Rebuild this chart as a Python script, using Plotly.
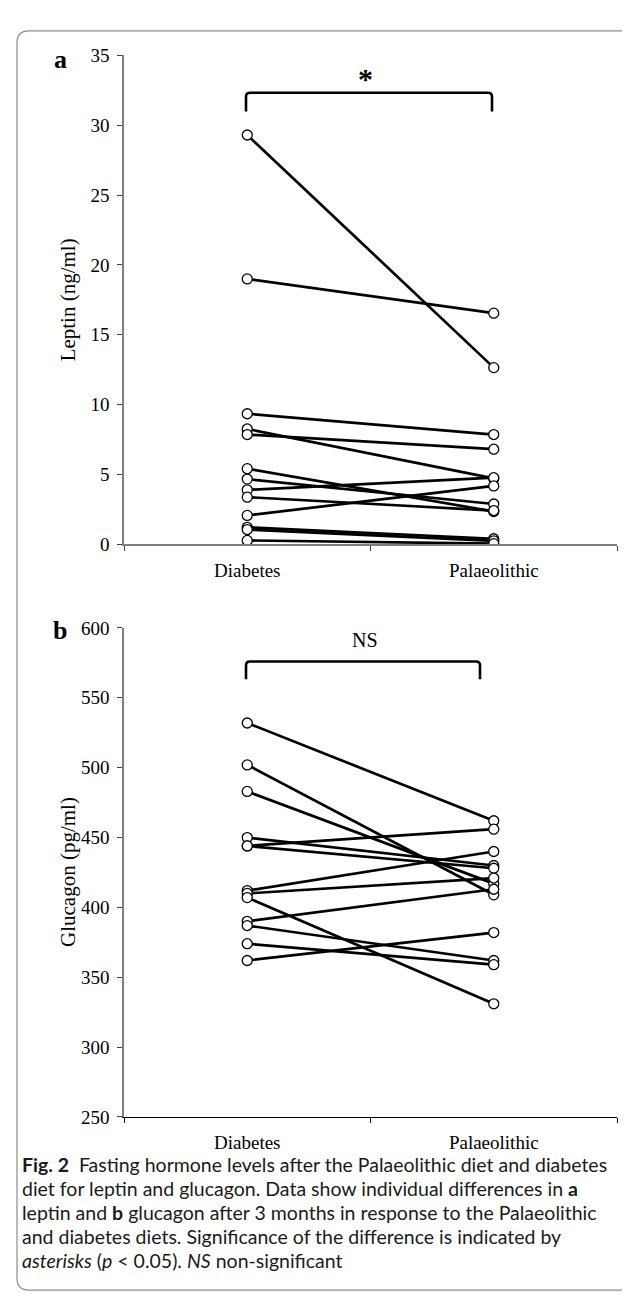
import plotly.graph_objects as go

W, H = 630, 1299

categories = ["Diabetes", "Palaeolithic"]

leptin_diabetes = [29.3, 19.0, 9.35, 8.26, 7.86, 5.42, 4.67, 3.90, 3.38, 2.07, 1.22, 1.06, 0.28]
leptin_palaeo = [12.65, 16.55, 7.86, 4.72, 6.81, 2.35, 2.89, 4.77, 2.42, 4.18, 0.40, 0.25, 0.05]

glucagon_diabetes = [532, 502, 483, 450, 444, 444, 412, 410, 407, 390, 387, 374, 362]
glucagon_palaeo = [462, 409, 417, 430, 456, 428, 440, 421, 331, 413, 362, 359, 382]

leptin_ticks = [0, 5, 10, 15, 20, 25, 30, 35]
glucagon_ticks = [250, 300, 350, 400, 450, 500, 550, 600]

caption_lines = [
    "<b>Fig. 2</b>  Fasting hormone levels after the Palaeolithic diet and diabetes",
    "diet for leptin and glucagon. Data show individual differences in <b>a</b>",
    "leptin and <b>b</b> glucagon after 3 months in response to the Palaeolithic",
    "and diabetes diets. Significance of the difference is indicated by",
    "<i>asterisks</i> (<i>p</i> &lt; 0.05). <i>NS</i> non-significant",
]

SERIF = "Liberation Serif"
SANS = "Lato"


def px(x):
    return x / W


def py(y):
    return 1 - y / H


fig = go.Figure()

panels = [
    ("x", "y", leptin_diabetes, leptin_palaeo),
    ("x2", "y2", glucagon_diabetes, glucagon_palaeo),
]

for xa, ya, dvals, pvals in panels:
    for d, p in zip(dvals, pvals):
        fig.add_trace(go.Scatter(
            x=categories, y=[d, p], xaxis=xa, yaxis=ya, mode="lines",
            line=dict(color="black", width=2.7), showlegend=False, hoverinfo="skip"))
    xs = [categories[0]] * len(dvals) + [categories[1]] * len(pvals)
    ys = list(dvals) + list(pvals)
    fig.add_trace(go.Scatter(
        x=xs, y=ys, xaxis=xa, yaxis=ya, mode="markers",
        marker=dict(symbol="circle", size=10, color="white",
                    line=dict(color="black", width=1.3)),
        showlegend=False))

xdom = [px(116), px(609)]
common_x = dict(
    type="category", range=[-0.5, 1.5], domain=xdom, showline=True,
    ticks="outside", tickson="boundaries", ticklen=5, showgrid=False,
    tickfont=dict(family=SERIF, size=19, color="black"), ticklabelstandoff=8,
    categoryorder="array", categoryarray=categories)
common_y = dict(
    showline=True, linecolor="#7f7f7f", linewidth=1.6, ticks="outside",
    ticklen=5, tickcolor="#404040", tickwidth=1, showgrid=False, zeroline=False,
    tickfont=dict(family=SERIF, size=19, color="black"), ticklabelstandoff=4)

fig.update_layout(
    width=W, height=H, margin=dict(l=0, r=0, t=0, b=0),
    paper_bgcolor="white", plot_bgcolor="white",
    xaxis=dict(**common_x, anchor="y", linecolor="#7f7f7f", linewidth=1.6,
               tickcolor="#404040"),
    yaxis=dict(**common_y, domain=[py(535), py(38)], range=[0, 35],
               tickvals=leptin_ticks, anchor="x"),
    xaxis2=dict(**common_x, anchor="y2", linecolor="black", linewidth=1,
                tickcolor="black"),
    yaxis2=dict(**common_y, domain=[py(1117), py(620)], range=[250, 600],
                tickvals=glucagon_ticks, anchor="x2"),
)

annotations = [
    dict(text="<b>a</b>", x=px(52), y=py(42), font=dict(family=SERIF, size=26)),
    dict(text="<b>b</b>", x=px(52), y=py(623), font=dict(family=SERIF, size=26)),
    dict(text="Leptin (ng/ml)", x=px(60), y=py(287), textangle=-90,
         font=dict(family=SERIF, size=21)),
    dict(text="Glucagon (pg/ml)", x=px(60), y=py(868), textangle=-90,
         font=dict(family=SERIF, size=21)),
    dict(text="<b>*</b>", x=px(357), y=py(62), font=dict(family=SERIF, size=30)),
    dict(text="NS", x=px(357), y=py(632), font=dict(family=SERIF, size=20)),
]
for a in annotations:
    a.update(xref="paper", yref="paper", showarrow=False,
             xanchor="center", yanchor="middle")
    a["font"]["color"] = "black"

cap_y = [1165, 1190, 1214, 1239, 1263]
for line, yy in zip(caption_lines, cap_y):
    annotations.append(dict(
        text=line, x=px(12), y=py(yy), xref="paper", yref="paper",
        showarrow=False, xanchor="left", yanchor="middle",
        font=dict(family=SANS, size=19.5, color="#1a1a1a")))

fig.update_layout(annotations=annotations)


def bracket(x0, x1, ytop, ybot, r=4):
    return (f"M {px(x0)},{py(ybot)} L {px(x0)},{py(ytop + r)} "
            f"Q {px(x0)},{py(ytop)} {px(x0 + r)},{py(ytop)} "
            f"L {px(x1 - r)},{py(ytop)} Q {px(x1)},{py(ytop)} {px(x1)},{py(ytop + r)} "
            f"L {px(x1)},{py(ybot)}")


def rounded_rect(x0, y0, x1, y1, r=12):
    return (f"M {px(x0 + r)},{py(y0)} L {px(x1 - r)},{py(y0)} "
            f"Q {px(x1)},{py(y0)} {px(x1)},{py(y0 + r)} "
            f"L {px(x1)},{py(y1 - r)} Q {px(x1)},{py(y1)} {px(x1 - r)},{py(y1)} "
            f"L {px(x0 + r)},{py(y1)} Q {px(x0)},{py(y1)} {px(x0)},{py(y1 - r)} "
            f"L {px(x0)},{py(y0 + r)} Q {px(x0)},{py(y0)} {px(x0 + r)},{py(y0)} Z")


shapes = [
    dict(type="path", path=bracket(238, 484, 76, 95), xref="paper", yref="paper",
         line=dict(color="black", width=2.6)),
    dict(type="path", path=bracket(238, 472, 654, 672), xref="paper", yref="paper",
         line=dict(color="black", width=2.6)),
    dict(type="path", path=rounded_rect(9, 13, 631, 1293), xref="paper", yref="paper",
         line=dict(color="#8c8c8c", width=1.2)),
]
fig.update_layout(shapes=shapes)

fig.write_html("out.html")
